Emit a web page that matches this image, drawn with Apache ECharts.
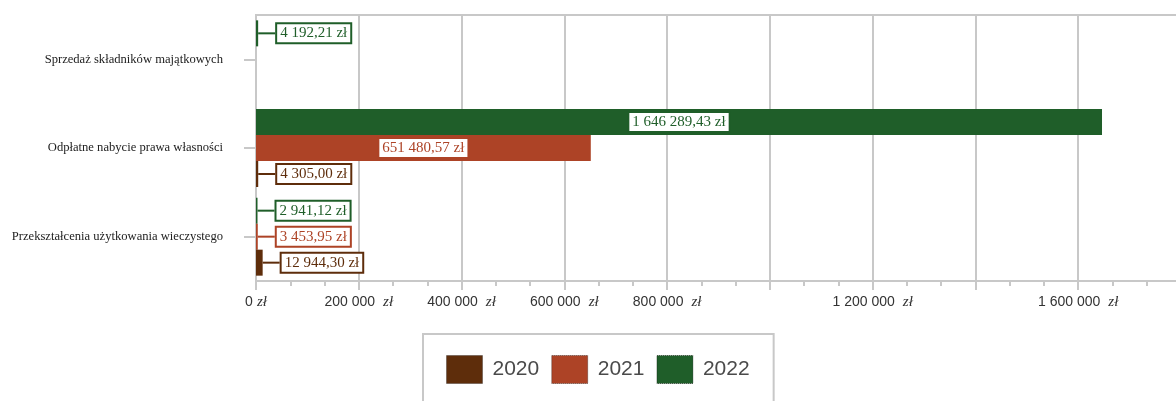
<!DOCTYPE html>
<html>
<head>
<meta charset="utf-8">
<script src="https://cdn.jsdelivr.net/npm/echarts@6/dist/echarts.min.js"></script>
<style>html,body{margin:0;padding:0;background:#fff}#c{width:1176px;height:401px}</style>
</head>
<body>
<div id="c"></div>
<script>
const categories = ['Sprzedaż składników majątkowych', 'Odpłatne nabycie prawa własności', 'Przekształcenia użytkowania wieczystego'];
const years = ['2020', '2021', '2022'];
const values2020 = [null, 4305.00, 12944.30];
const values2021 = [null, 651480.57, 3453.95];
const values2022 = [4192.21, 1646289.43, 2941.12];
const xTickLabels = ['0 zł', '200 000 zł', '400 000 zł', '600 000 zł', '800 000 zł', '', '1 200 000 zł', '', '1 600 000 zł', ''];

const colors = { '2020': '#5e2d0b', '2021': '#ad4326', '2022': '#1f5e29' };
const GRAY = '#c8c8c8';

function fmtPL(v) {
  const parts = v.toFixed(2).split('.');
  return parts[0].replace(/\B(?=(\d{3})+(?!\d))/g, ' ') + ',' + parts[1] + ' zł';
}

function makeSeries(name, data) {
  const color = colors[name];
  return {
    name: name,
    type: 'bar',
    barWidth: 26,
    barGap: '0%',
    itemStyle: { color: color },
    data: data.map(v => v == null ? null : {
      value: v,
      label: { position: v > 100000 ? 'inside' : 'right' },
      labelLine: { show: v <= 100000 }
    }),
    label: {
      show: true,
      formatter: p => fmtPL(p.value),
      fontFamily: 'Liberation Serif, serif',
      fontSize: 15,
      color: color,
      backgroundColor: '#fff',
      borderColor: color,
      borderWidth: 2,
      padding: [2, 3, 1, 3],
      distance: 0
    },
    labelLine: { show: true, lineStyle: { color: color, width: 2 } },
    labelLayout: function (p) {
      const v = data[p.dataIndex];
      return (v != null && v <= 100000) ? { dx: 19 } : {};
    }
  };
}

const chart = echarts.init(document.getElementById('c'), null, { renderer: 'canvas' });
chart.setOption({
  animation: false,
  grid: { left: 256, right: -5, top: 15, bottom: 120, outerBoundsMode: 'none', containLabel: false, show: true, borderColor: GRAY, borderWidth: 2 },
  legend: {
    data: years,
    left: 423, top: 334,
    itemWidth: 36, itemHeight: 28, itemGap: 12,
    padding: [21, 24, 25, 23],
    borderColor: GRAY, borderWidth: 2,
    icon: 'rect',
    itemStyle: { borderColor: 'rgba(0,0,0,0.55)', borderWidth: 1, borderType: 'dotted' },
    textStyle: { fontSize: 21, color: '#4a4a4a', fontFamily: 'Liberation Sans, sans-serif', padding: [0, 0, 0, 5] }
  },
  xAxis: {
    type: 'value', min: 0, max: 1800000, interval: 200000,
    axisLine: { show: true, lineStyle: { color: GRAY, width: 2 } },
    axisTick: { show: true, length: 9, lineStyle: { color: GRAY, width: 2 } },
    minorTick: { show: true, splitNumber: 3, length: 5, lineStyle: { color: GRAY, width: 2 } },
    splitLine: { show: true, lineStyle: { color: GRAY, width: 2 } },
    axisLabel: {
      margin: 14,
      formatter: function (v) {
        const s = xTickLabels[Math.round(v / 200000)] || '';
        if (!s) return '';
        const num = s.replace(/\s*zł$/, '');
        return '{n|' + num + '}{' + (v === 0 ? 'z0' : 'z') + '|zł}';
      },
      rich: {
        n: { fontFamily: 'Liberation Sans, sans-serif', fontSize: 14, color: '#333' },
        z: { fontFamily: 'Liberation Serif, serif', fontSize: 15, color: '#333', fontStyle: 'italic', padding: [0, 0, 0, 8] },
        z0: { fontFamily: 'Liberation Serif, serif', fontSize: 15, color: '#333', fontStyle: 'italic', padding: [0, 0, 0, 4] }
      }
    }
  },
  yAxis: {
    type: 'category', data: categories, inverse: true,
    axisLine: { show: true, lineStyle: { color: GRAY, width: 2 } },
    axisTick: { show: true, alignWithLabel: true, length: 12, lineStyle: { color: GRAY, width: 2 } },
    axisLabel: { fontFamily: 'Liberation Serif, serif', fontSize: 12.6, color: '#222', margin: 33 }
  },
  series: [
    makeSeries('2022', values2022),
    makeSeries('2021', values2021),
    makeSeries('2020', values2020)
  ]
});
</script>
</body>
</html>
